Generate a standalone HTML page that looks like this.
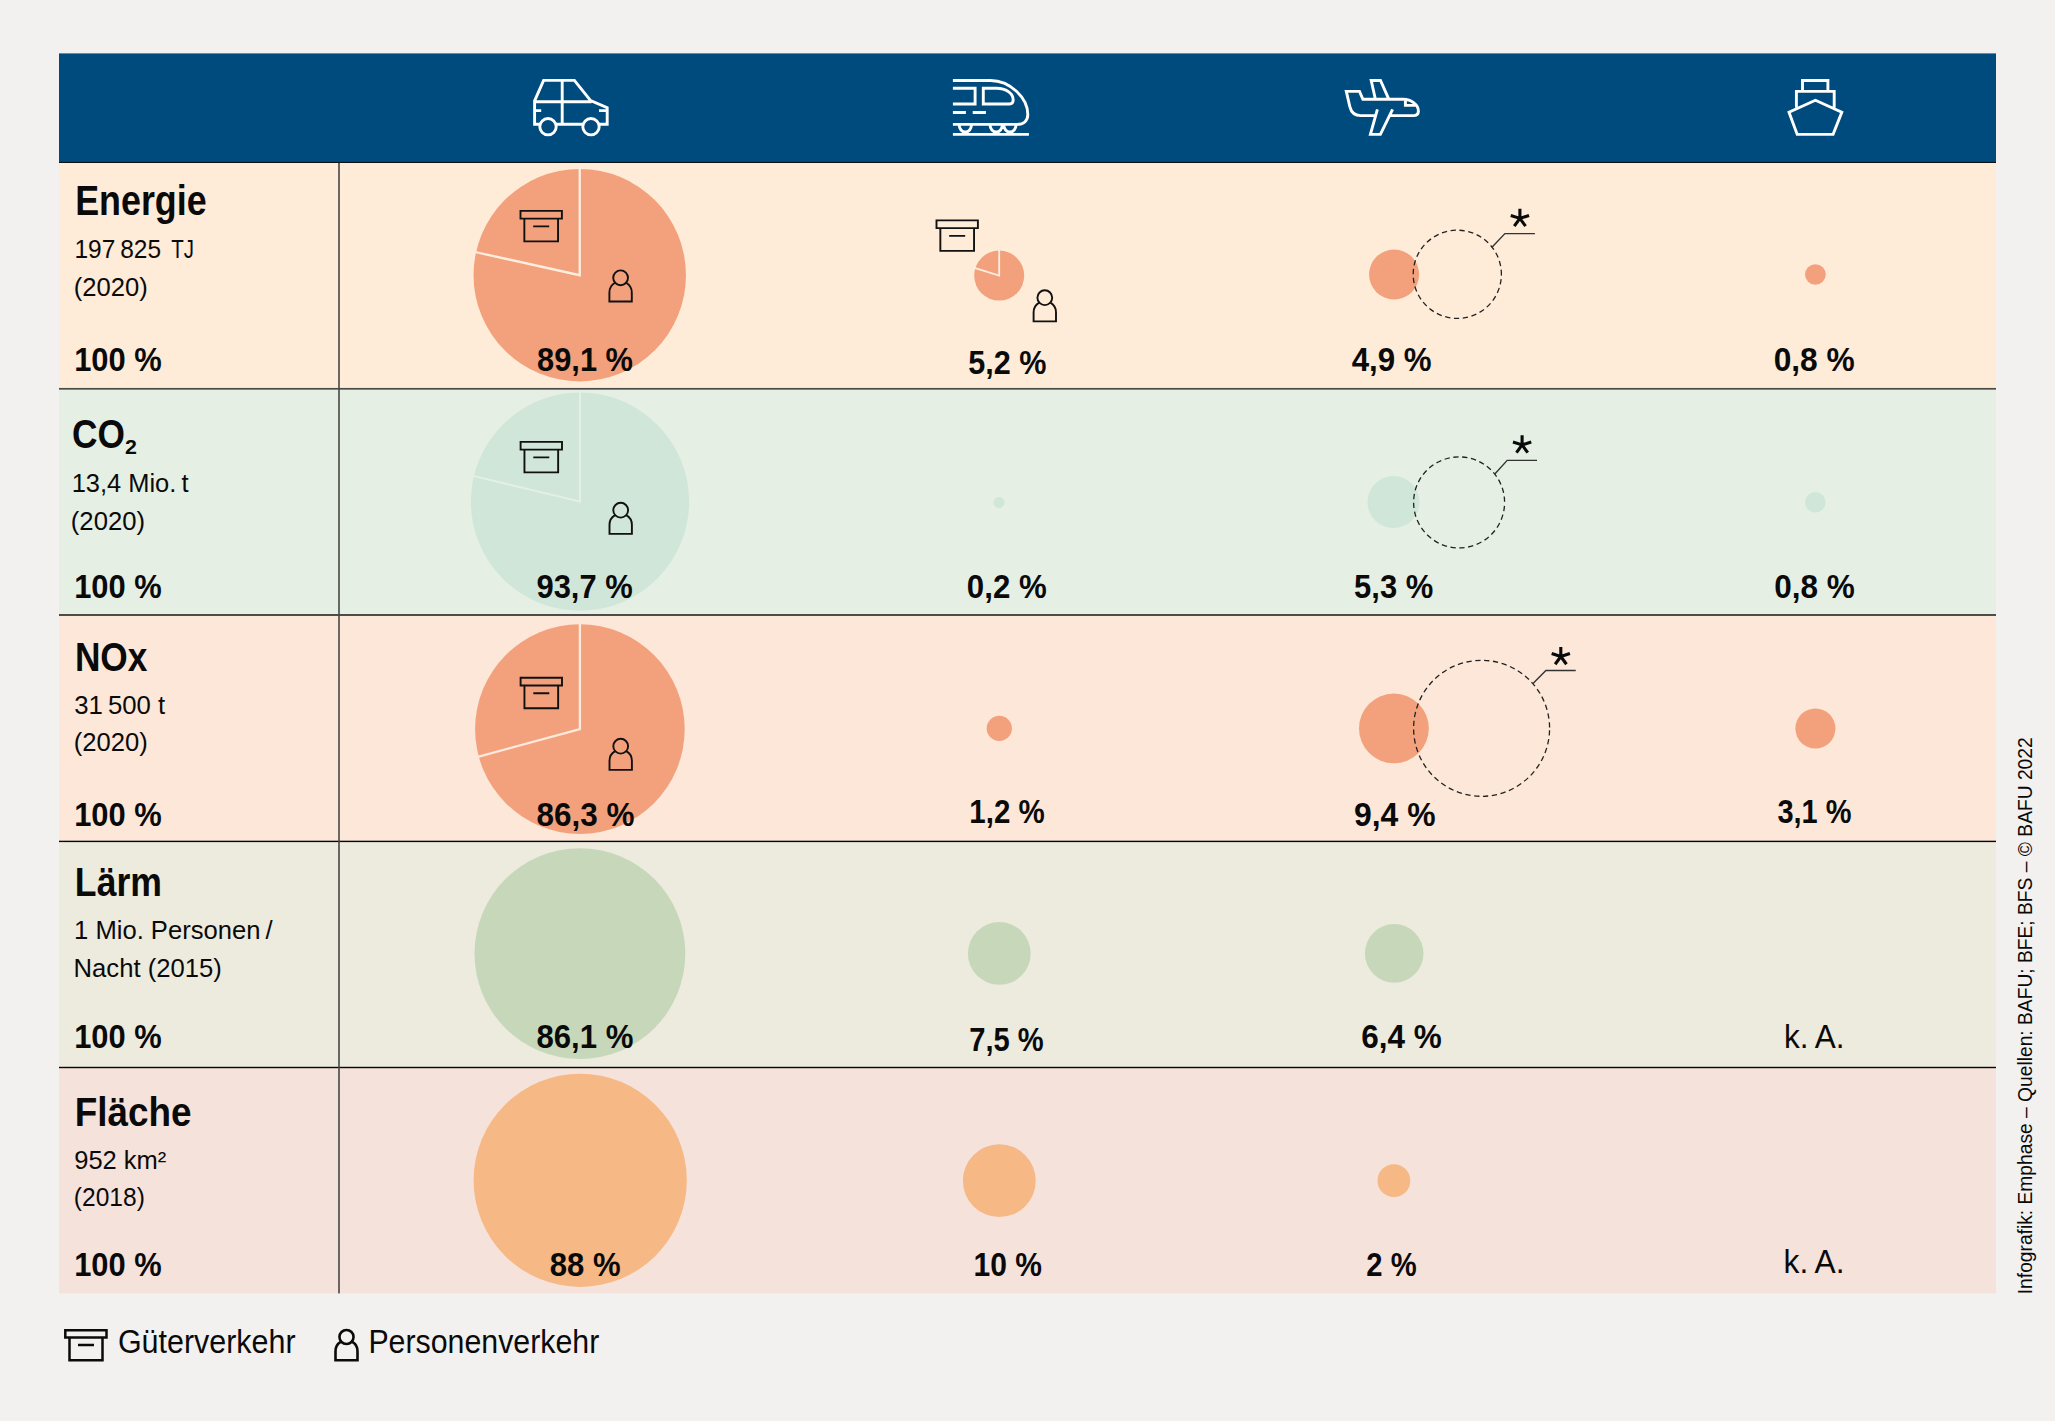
<!DOCTYPE html>
<html lang="de"><head><meta charset="utf-8"><title>Verkehr – Anteile</title>
<style>html,body{margin:0;padding:0;background:#f3f1ef}body{width:2055px;height:1421px;overflow:hidden}svg{display:block}text{font-family:"Liberation Sans",sans-serif;fill:#0a0a0a;white-space:pre}.b{font-weight:bold}.ic{fill:none;stroke:#fff;stroke-width:2.9}.k{fill:none;stroke:#111;stroke-width:1.7}</style></head><body>
<svg width="2055" height="1421" viewBox="0 0 2055 1421">
<rect x="0" y="0" width="2055" height="1421" fill="#f3f1ef"/>
<rect x="59" y="162.4" width="1937" height="226.4" fill="#feebd8"/>
<rect x="59" y="388.8" width="1937" height="226.2" fill="#e5efe4"/>
<rect x="59" y="615" width="1937" height="226.4" fill="#fce7d8"/>
<rect x="59" y="841.4" width="1937" height="226.1" fill="#edeade"/>
<rect x="59" y="1067.5" width="1937" height="225.9" fill="#f5e2da"/>
<rect x="59" y="53.4" width="1937" height="109" fill="#004b7d"/>
<circle cx="579.75" cy="275.2" r="106.2" fill="#f2a17c"/>
<path d="M579.75 168.00 L579.75 275.20 L475.09 252.00" fill="none" stroke="#fdeee0" stroke-width="2.3" stroke-linejoin="miter"/>
<circle cx="999.2" cy="275.6" r="25" fill="#f2a17c"/>
<path d="M999.20 249.60 L999.20 275.60 L974.38 267.87" fill="none" stroke="#fdeee0" stroke-width="1.8" stroke-linejoin="miter"/>
<circle cx="1394.1" cy="274.5" r="25" fill="#f2a17c"/>
<circle cx="1815.4" cy="274.5" r="10.35" fill="#f2a17c"/>
<circle cx="580" cy="501.6" r="109.1" fill="#d0e6d9"/>
<path d="M580.00 391.50 L580.00 501.60 L472.94 475.90" fill="none" stroke="#e4f0e6" stroke-width="2" stroke-linejoin="miter"/>
<circle cx="999" cy="502.4" r="5.5" fill="#d0e6d9"/>
<circle cx="1393.5" cy="502.1" r="26" fill="#d0e6d9"/>
<circle cx="1815.3" cy="502.3" r="10.3" fill="#d0e6d9"/>
<circle cx="579.9" cy="729.1" r="104.8" fill="#f2a17c"/>
<path d="M579.90 623.30 L579.90 729.10 L477.80 756.84" fill="none" stroke="#fdeadc" stroke-width="2.3" stroke-linejoin="miter"/>
<circle cx="999.3" cy="728.4" r="12.6" fill="#f2a17c"/>
<circle cx="1393.9" cy="728.4" r="34.9" fill="#f2a17c"/>
<circle cx="1815.4" cy="728.5" r="20" fill="#f2a17c"/>
<circle cx="579.9" cy="953.6" r="105.4" fill="#c7d8ba"/>
<circle cx="999.3" cy="953.4" r="31.4" fill="#c7d8ba"/>
<circle cx="1394.2" cy="953.4" r="29.3" fill="#c7d8ba"/>
<circle cx="580.2" cy="1180.3" r="106.6" fill="#f6b885"/>
<circle cx="999.3" cy="1180.7" r="36.4" fill="#f6b885"/>
<circle cx="1393.9" cy="1180.7" r="16.4" fill="#f6b885"/>
<circle cx="1457.3" cy="274.3" r="44.1" fill="none" stroke="#222" stroke-width="1.3" stroke-dasharray="5.3 3.6" stroke-dashoffset="3.95"/>
<polyline points="1492.2,247.1 1504.9,233.6 1534.9,233.6" fill="none" stroke="#333" stroke-width="1.4"/>
<path d="M1519.90 218.40 L1519.90 208.80M1519.90 218.40 L1510.77 215.43M1519.90 218.40 L1514.26 226.17M1519.90 218.40 L1525.54 226.17M1519.90 218.40 L1529.03 215.43" fill="none" stroke="#0a0a0a" stroke-width="3.1"/>
<circle cx="1459.1" cy="502.4" r="45.5" fill="none" stroke="#222" stroke-width="1.3" stroke-dasharray="5.3 3.6" stroke-dashoffset="5.35"/>
<polyline points="1494.6,474.3 1507.2,460.4 1537,460.4" fill="none" stroke="#333" stroke-width="1.4"/>
<path d="M1522.10 444.90 L1522.10 435.30M1522.10 444.90 L1512.97 441.93M1522.10 444.90 L1516.46 452.67M1522.10 444.90 L1527.74 452.67M1522.10 444.90 L1531.23 441.93" fill="none" stroke="#0a0a0a" stroke-width="3.1"/>
<circle cx="1481.6" cy="728.3" r="68" fill="none" stroke="#222" stroke-width="1.3" stroke-dasharray="5.3 3.6" stroke-dashoffset="6.85"/>
<polyline points="1533,683.4 1545.9,670.5 1575.7,670.5" fill="none" stroke="#333" stroke-width="1.4"/>
<path d="M1560.80 656.50 L1560.80 646.90M1560.80 656.50 L1551.67 653.53M1560.80 656.50 L1555.16 664.27M1560.80 656.50 L1566.44 664.27M1560.80 656.50 L1569.93 653.53" fill="none" stroke="#0a0a0a" stroke-width="3.1"/>
<path d="M520.50 210.90 h41.40 v7.7 h-41.40 z M524.35 218.60 v22.8 h33.7 v-22.8 M533.20 226.40 h16" fill="none" stroke="#111" stroke-width="1.9"/>
<g transform="translate(620.6 277.8)" fill="none" stroke="#111" stroke-width="1.9"><circle r="7.4"/><path d="M-5.6 4.9 A11.2 11.2 0 0 0 -11.2 14.7 V23.7 H11.2 V14.7 A11.2 11.2 0 0 0 5.6 4.9"/></g>
<path d="M936.50 220.40 h41.40 v7.7 h-41.40 z M940.35 228.10 v22.8 h33.7 v-22.8 M949.20 235.90 h16" fill="none" stroke="#111" stroke-width="1.9"/>
<g transform="translate(1044.8 297.7)" fill="none" stroke="#111" stroke-width="1.9"><circle r="7.4"/><path d="M-5.6 4.9 A11.2 11.2 0 0 0 -11.2 14.7 V23.7 H11.2 V14.7 A11.2 11.2 0 0 0 5.6 4.9"/></g>
<path d="M520.60 441.90 h41.40 v7.7 h-41.40 z M524.45 449.60 v22.8 h33.7 v-22.8 M533.30 457.40 h16" fill="none" stroke="#111" stroke-width="1.9"/>
<g transform="translate(620.7 510.2)" fill="none" stroke="#111" stroke-width="1.9"><circle r="7.4"/><path d="M-5.6 4.9 A11.2 11.2 0 0 0 -11.2 14.7 V23.7 H11.2 V14.7 A11.2 11.2 0 0 0 5.6 4.9"/></g>
<path d="M520.60 677.80 h41.40 v7.7 h-41.40 z M524.45 685.50 v22.8 h33.7 v-22.8 M533.30 693.30 h16" fill="none" stroke="#111" stroke-width="1.9"/>
<g transform="translate(620.7 746.2)" fill="none" stroke="#111" stroke-width="1.9"><circle r="7.4"/><path d="M-5.6 4.9 A11.2 11.2 0 0 0 -11.2 14.7 V23.7 H11.2 V14.7 A11.2 11.2 0 0 0 5.6 4.9"/></g>
<path d="M65.3 1330.2 h41.2 v7.4 h-41.2 z M69.5 1337.6 v22.6 h33 v-22.6 M78 1345.1 h16" fill="none" stroke="#0a0a0a" stroke-width="2.5"/>
<g transform="translate(346.5 1337)" fill="none" stroke="#0a0a0a" stroke-width="2.6"><circle r="7.05"/><path d="M-5.4 4.7 A11 11 0 0 0 -11 14.4 V23.3 H11 V14.4 A11 11 0 0 0 5.4 4.7"/></g>
<rect x="59" y="387.95" width="1937" height="1.7" fill="#4a4a46"/>
<rect x="59" y="614.05" width="1937" height="1.9" fill="#454540"/>
<rect x="59" y="840.7" width="1937" height="1.4" fill="#060606"/>
<rect x="59" y="1066.8" width="1937" height="1.4" fill="#060606"/>
<rect x="59" y="161.9" width="1937" height="1" fill="#000"/>
<rect x="338.2" y="162.9" width="1.6" height="1130.5" fill="#484845"/>
<g class="ic" stroke-linejoin="miter">
<path d="M539.8 124.3 H534.6 V100.8 L543.6 80.4 H574.4 L590.6 100.6 L607.2 107.6 V124.3 H599.2 M582.8 124.3 H556.2 M534.6 101.7 H591.5 M562.2 80.4 V124.3 M534.6 110.6 H541.2 M599 110.6 H607.2"/>
<circle cx="548" cy="126.7" r="8.2"/><circle cx="591" cy="126.7" r="8.2"/>
<path d="M952.9 80.5 H990.5 C1010 80.5 1027.8 98 1027.8 114.5 C1027.8 121 1023.5 124.4 1017 124.4 H952.9 M952.9 134.4 H1028.9 M952.9 88.2 H975.1 V104 H952.9 M983.3 88.2 H996.5 C1006 88.2 1013.2 93.5 1013.2 100 C1013.2 102.6 1011.8 104 1009.5 104 H983.3 Z M952.9 112.5 H965.9 M972.7 112.5 H985.9"/>
<path d="M959.2 125 A6.1 7 0 0 0 971.4 125 M990.1 125 A6.1 7 0 0 0 1002.3 125 M1003.8 125 A6.1 7 0 0 0 1016 125"/>
<path d="M1390.4 115.6 H1413.4 C1416.6 115.6 1418.4 113.9 1418.4 111 C1418.4 104.8 1411.4 99.3 1403.2 99.3 H1362.9 L1359.5 91.4 H1346.3 L1349.9 106.9 C1351.4 112.8 1355 115.6 1360.6 115.6 H1374.6 M1375.4 99.3 L1371.2 80.5 H1380.5 L1388.9 99.3 M1392.6 109.3 L1380.4 134.4 H1370.4 L1377.4 109.3 M1405.4 100.4 V105.4 H1416.5"/>
<path d="M1802.5 91.3 V80.5 H1827.9 V91.3 M1796.4 107.5 V91.4 H1834.2 V107.5 M1815.4 100.3 L1841.8 112.2 L1833.1 134.4 H1797.2 L1789 112.2 Z"/>
</g>
<text class="b" font-size="41.72" transform="translate(75.18 214.80) scale(0.8590 1)">Energie</text>
<text font-size="26.16" transform="translate(74.43 257.50) scale(0.9359 1)">197 825</text>
<text font-size="26.16" transform="translate(171.30 257.50) scale(0.7828 1)">TJ</text>
<text font-size="26.16" transform="translate(73.82 295.80) scale(0.9797 1)">(2020)</text>
<text class="b" font-size="33.14" transform="translate(74.13 370.80) scale(0.9325 1)">100 %</text>
<text class="b" font-size="33.14" transform="translate(537.07 370.60) scale(0.9294 1)">89,1 %</text>
<text class="b" font-size="33.14" transform="translate(968.28 373.80) scale(0.9225 1)">5,2 %</text>
<text class="b" font-size="33.14" transform="translate(1351.70 371.10) scale(0.9436 1)">4,9 %</text>
<text class="b" font-size="33.14" transform="translate(1773.64 371.20) scale(0.9573 1)">0,8 %</text>
<text class="b" font-size="40.12" transform="translate(72.12 448.30) scale(0.8781 1)">CO</text>
<text class="b" font-size="20.64" transform="translate(125.00 453.50) scale(1.0364 1)">2</text>
<text font-size="26.16" transform="translate(71.65 491.60) scale(0.9737 1)">13,4 Mio. t</text>
<text font-size="26.16" transform="translate(70.82 530.10) scale(0.9811 1)">(2020)</text>
<text class="b" font-size="33.14" transform="translate(74.13 598.10) scale(0.9325 1)">100 %</text>
<text class="b" font-size="33.14" transform="translate(536.47 598.00) scale(0.9334 1)">93,7 %</text>
<text class="b" font-size="33.14" transform="translate(966.86 598.00) scale(0.9429 1)">0,2 %</text>
<text class="b" font-size="33.14" transform="translate(1354.07 598.00) scale(0.9345 1)">5,3 %</text>
<text class="b" font-size="33.14" transform="translate(1774.15 598.10) scale(0.9513 1)">0,8 %</text>
<text class="b" font-size="41.13" transform="translate(74.89 670.80) scale(0.8574 1)">NOx</text>
<text font-size="26.16" transform="translate(74.22 714.40) scale(0.9844 1)">31 500 t</text>
<text font-size="26.16" transform="translate(73.82 751.40) scale(0.9797 1)">(2020)</text>
<text class="b" font-size="33.14" transform="translate(74.13 825.90) scale(0.9325 1)">100 %</text>
<text class="b" font-size="33.14" transform="translate(536.45 825.50) scale(0.9501 1)">86,3 %</text>
<text class="b" font-size="33.14" transform="translate(969.32 823.00) scale(0.8900 1)">1,2 %</text>
<text class="b" font-size="33.14" transform="translate(1354.04 825.50) scale(0.9621 1)">9,4 %</text>
<text class="b" font-size="33.14" transform="translate(1777.40 823.10) scale(0.8736 1)">3,1 %</text>
<text class="b" font-size="41.28" transform="translate(74.87 895.80) scale(0.8630 1)">Lärm</text>
<text font-size="26.16" transform="translate(74.04 939.10) scale(0.9792 1)">1 Mio. Personen /</text>
<text font-size="26.16" transform="translate(73.54 976.80) scale(0.9805 1)">Nacht (2015)</text>
<text class="b" font-size="33.14" transform="translate(74.14 1047.90) scale(0.9314 1)">100 %</text>
<text class="b" font-size="33.14" transform="translate(536.46 1048.00) scale(0.9403 1)">86,1 %</text>
<text class="b" font-size="33.14" transform="translate(969.32 1051.00) scale(0.8781 1)">7,5 %</text>
<text class="b" font-size="33.14" transform="translate(1361.35 1048.00) scale(0.9501 1)">6,4 %</text>
<text font-size="32.7" transform="translate(1783.97 1047.80) scale(0.9631 1)">k. A.</text>
<text class="b" font-size="41.28" transform="translate(74.81 1125.80) scale(0.8937 1)">Fläche</text>
<text font-size="26.16" transform="translate(74.22 1169.10) scale(0.9757 1)">952 km²</text>
<text font-size="26.16" transform="translate(73.86 1206.30) scale(0.9391 1)">(2018)</text>
<text class="b" font-size="33.14" transform="translate(74.14 1276.10) scale(0.9314 1)">100 %</text>
<text class="b" font-size="33.14" transform="translate(549.66 1275.70) scale(0.9386 1)">88 %</text>
<text class="b" font-size="33.14" transform="translate(973.59 1276.00) scale(0.9062 1)">10 %</text>
<text class="b" font-size="33.14" transform="translate(1366.32 1276.00) scale(0.8809 1)">2 %</text>
<text font-size="32.7" transform="translate(1783.56 1272.70) scale(0.9699 1)">k. A.</text>
<text font-size="33.43" transform="translate(117.89 1352.90) scale(0.9113 1)">Güterverkehr</text>
<text font-size="33.43" transform="translate(368.39 1352.90) scale(0.9073 1)">Personenverkehr</text>
<text font-size="20.64" transform="translate(2032.40 1294.23) rotate(-90) scale(0.9319 1)">Infografik: Emphase – Quellen: BAFU; BFE; BFS – © BAFU 2022</text>
</svg></body></html>
